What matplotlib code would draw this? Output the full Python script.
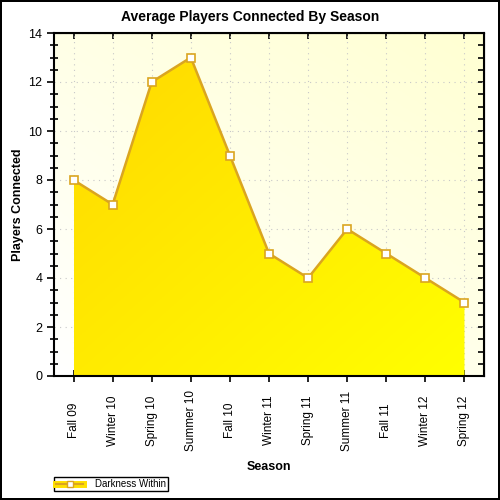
import numpy as np
import matplotlib
matplotlib.use('Agg')
from matplotlib import pyplot as plt
from matplotlib.lines import Line2D
from matplotlib.colors import LinearSegmentedColormap
from matplotlib.ticker import MultipleLocator

seasons = ['Fall 09', 'Winter 10', 'Spring 10', 'Summer 10', 'Fall 10', 'Winter 11',
           'Spring 11', 'Summer 11', 'Fall 11', 'Winter 12', 'Spring 12']
players = [8, 7, 12, 13, 9, 5, 4, 6, 5, 4, 3]
series_name = 'Darkness Within'

plt.rcParams['font.family'] = ['Liberation Sans', 'DejaVu Sans']

fig = plt.figure(figsize=(5, 5), dpi=100)
fig.patch.set_edgecolor('black')
fig.patch.set_linewidth(1.5)
ax = fig.add_axes([0.108, 0.248, 0.86, 0.686])

x = np.arange(len(seasons))

# background gradient: white bottom-left -> light yellow top-right
bg = LinearSegmentedColormap.from_list('bg', ['#ffffff', '#ffffd2'])
gx, gy = np.meshgrid(np.linspace(0, 1, 200), np.linspace(0, 1, 200))
ax.imshow((gx * 0.45 + gy * 0.55), cmap=bg, origin='lower', aspect='auto',
          extent=[-0.5, len(seasons) - 0.5, 0, 14], zorder=0)

ax.grid(True, color='#c8c8c8', linestyle=(0, (1, 4)), linewidth=0.8, zorder=1)

# area fill gradient: gold top-left -> yellow bottom-right
fillc = LinearSegmentedColormap.from_list('fill', ['#ffd700', '#ffff00'])
poly = ax.fill_between(x, players, 0, color='none', zorder=2)
grad = ax.imshow((gx * 0.5 + (1 - gy) * 0.5), cmap=fillc, origin='lower', aspect='auto',
                 extent=[0, len(seasons) - 1, 0, 14], zorder=2)
grad.set_clip_path(poly.get_paths()[0], transform=ax.transData)
ax.set_xlim(-0.5, len(seasons) - 0.5)
ax.set_ylim(0, 14)

ax.plot(x, players, color='#daa520', linewidth=1.8, marker='s', markersize=6,
        markerfacecolor='white', markeredgecolor='#daa520', markeredgewidth=1.2, zorder=3)

ax.set_xticks(x)
ax.set_xticklabels(seasons, rotation=90, fontsize=8.5, va='center')
ax.yaxis.set_major_locator(MultipleLocator(2))
ax.yaxis.set_minor_locator(MultipleLocator(0.5))
ax.tick_params(axis='y', which='major', direction='out', length=5, width=1.2, labelsize=9)
ax.tick_params(axis='y', which='minor', direction='inout', length=6, width=1.2)
ax.tick_params(axis='x', which='major', direction='inout', length=8, width=1.2, pad=28)
for s in ax.spines.values():
    s.set_linewidth(1.5)

# mirrored ticks on right and top
sec_y = ax.secondary_yaxis('right')
sec_y.yaxis.set_major_locator(MultipleLocator(2))
sec_y.yaxis.set_minor_locator(MultipleLocator(0.5))
sec_y.tick_params(which='both', direction='in', length=4, width=1.2, labelright=False)
sec_x = ax.secondary_xaxis('top')
sec_x.set_xticks(x)
sec_x.tick_params(direction='in', length=4, width=1.2, labeltop=False)

fig.text(0.5, 0.966, 'Average Players Connected By Season', ha='center', va='center',
         fontsize=10, fontweight='bold')
ax.set_ylabel('Players Connected', fontsize=9, fontweight='bold', va='center')
ax.yaxis.set_label_coords(-0.084, 0.5)
ax.set_xlabel('Season', fontsize=9, fontweight='bold', va='center')
ax.xaxis.set_label_coords(0.5, -0.265)

band = Line2D([], [], color='#ffe000', linewidth=5)
line = Line2D([], [], color='#daa520', linewidth=1.5, marker='s', markersize=5,
              markerfacecolor='white', markeredgecolor='#daa520')
leg = fig.legend([(band, line)], [series_name], loc='lower left',
                 bbox_to_anchor=(0.108, 0.018), fontsize=7, fancybox=False,
                 edgecolor='black', framealpha=1, borderpad=0.2, handlelength=2.8,
                 handletextpad=1.2, borderaxespad=0)
leg.get_frame().set_linewidth(1)

fig.savefig('out.png', dpi=100, edgecolor=fig.get_edgecolor())
